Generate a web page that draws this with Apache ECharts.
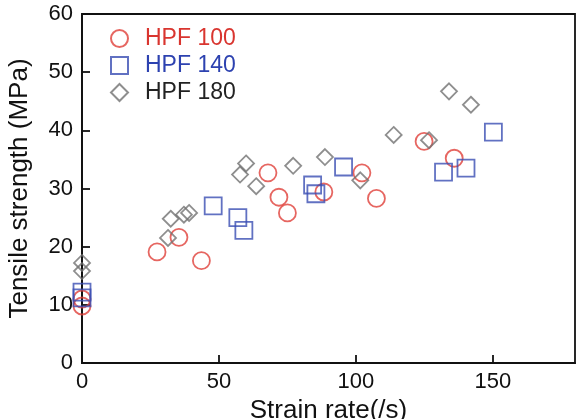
<!DOCTYPE html>
<html>
<head>
<meta charset="utf-8">
<script src="https://cdn.jsdelivr.net/npm/echarts@6/dist/echarts.min.js"></script>
<style>
  html, body { margin: 0; padding: 0; background: #fff; }
  #chart { width: 588px; height: 419px; }
</style>
</head>
<body>
<div id="chart"></div>
<script>
// [strain rate, tensile strength]
const hpf100 = [
  [0, 11], [0, 9.8], [27.4, 19.1], [35.4, 21.6], [43.6, 17.6],
  [67.9, 32.7], [71.9, 28.5], [75, 25.8], [88.3, 29.4], [102.2, 32.7],
  [107.5, 28.3], [124.9, 38.1], [135.9, 35.2]
];
const hpf140 = [
  [0, 12.2], [0, 11.2], [47.9, 27], [56.9, 25], [59.1, 22.8],
  [84.2, 30.6], [85.4, 29.1], [95.5, 33.7], [132, 32.8], [140.2, 33.5],
  [150.2, 39.7]
];
const hpf180 = [
  [0, 17.2], [0, 15.8], [31.4, 21.5], [32.4, 24.8], [37.2, 25.5],
  [39.1, 25.8], [57.7, 32.4], [59.9, 34.3], [63.6, 30.4], [77.1, 33.9],
  [88.7, 35.4], [101.6, 31.4], [113.8, 39.2], [126.7, 38.3], [134, 46.7],
  [142, 44.4]
];
const seriesNames = ['HPF 100', 'HPF 140', 'HPF 180'];

const chart = echarts.init(document.getElementById('chart'));
const font = 'Liberation Sans, Arial, sans-serif';
const red = '#e0403a';
const blue = '#3a4db3';
const grey = '#727272';

const option = {
  backgroundColor: '#fff',
  animation: false,
  grid: {
    left: 82, right: 13, top: 14, bottom: 56,
    outerBoundsMode: 'none',
    show: true, borderColor: '#111', borderWidth: 1.8
  },
  legend: {
    orient: 'vertical',
    left: 105, top: 22,
    itemWidth: 17, itemHeight: 17, itemGap: 4,
    textStyle: { fontFamily: font, fontSize: 23, padding: [0, 0, 0, 12] },
    data: [
      { name: 'HPF 100', textStyle: { color: '#d9352f' } },
      { name: 'HPF 140', textStyle: { color: '#2d42b0' } },
      { name: 'HPF 180', textStyle: { color: '#222' } }
    ]
  },
  xAxis: {
    type: 'value', min: 0, max: 180, interval: 50,
    name: 'Strain rate(/s)', nameLocation: 'middle', nameGap: 34,
    nameTextStyle: { fontFamily: font, fontSize: 26, color: '#111' },
    axisLine: { lineStyle: { color: '#111', width: 1.8 } },
    axisTick: { inside: true, length: 8, lineStyle: { color: '#111', width: 1.8 } },
    axisLabel: {
      fontFamily: font, fontSize: 22, color: '#111', margin: 8,
      showMaxLabel: false
    },
    splitLine: { show: false }
  },
  yAxis: {
    type: 'value', min: 0, max: 60, interval: 10,
    name: 'Tensile strength (MPa)', nameLocation: 'middle', nameGap: 49,
    nameTextStyle: { fontFamily: font, fontSize: 26, color: '#111' },
    axisLine: { lineStyle: { color: '#111', width: 1.8 } },
    axisTick: { inside: true, length: 8, lineStyle: { color: '#111', width: 1.8 } },
    axisLabel: { fontFamily: font, fontSize: 22, color: '#111', margin: 9 },
    splitLine: { show: false }
  },
  series: [
    {
      name: seriesNames[0], type: 'scatter', symbol: 'circle', symbolSize: 17,
      itemStyle: { color: 'rgba(255,255,255,0)', borderColor: red, borderWidth: 1.8 },
      data: hpf100
    },
    {
      name: seriesNames[1], type: 'scatter', symbol: 'rect', symbolSize: 17,
      itemStyle: { color: 'rgba(255,255,255,0)', borderColor: blue, borderWidth: 1.8 },
      data: hpf140
    },
    {
      name: seriesNames[2], type: 'scatter', symbol: 'diamond', symbolSize: 16,
      itemStyle: { color: 'rgba(255,255,255,0)', borderColor: grey, borderWidth: 1.8 },
      data: hpf180
    }
  ]
};

chart.setOption(option);
</script>
</body>
</html>
